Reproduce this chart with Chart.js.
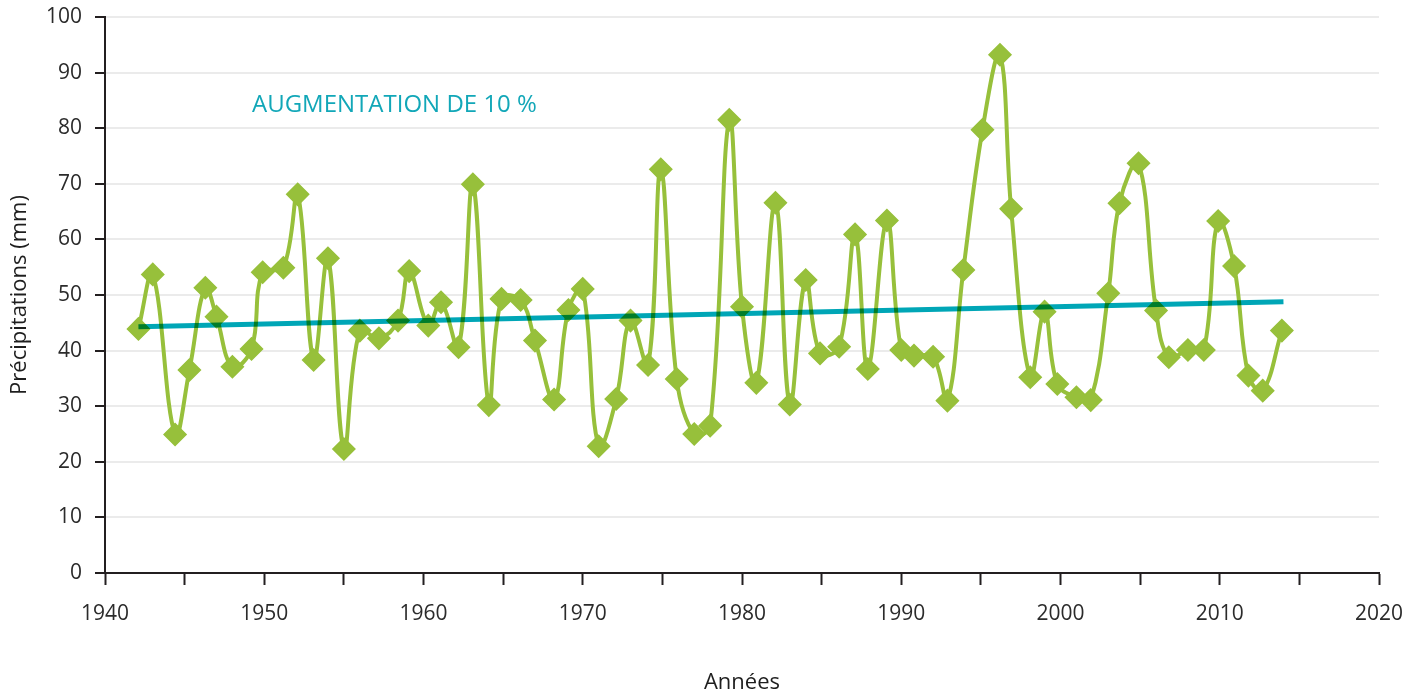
<!DOCTYPE html>
<html>
<head>
<meta charset="utf-8">
<script src="https://cdn.jsdelivr.net/npm/chart.js@4"></script>
<style>
  body { margin: 0; background: #fff; }
</style>
</head>
<body>
<canvas id="myChart" width="1422" height="696"></canvas>
<script>
// years (read off the picture, not quite regular)
const years = [1942.1, 1943.0, 1944.4, 1945.3, 1946.3, 1947.0, 1948.0, 1949.2, 1949.9, 1951.2,
  1952.1, 1953.1, 1954.0, 1955.0, 1956.0, 1957.2, 1958.4, 1959.1, 1960.3, 1961.1,
  1962.2, 1963.1, 1964.1, 1964.9, 1966.1, 1967.0, 1968.2, 1969.1, 1970.0, 1971.0,
  1972.1, 1973.0, 1974.1, 1974.9, 1975.9, 1977.0, 1978.0, 1979.2, 1980.0, 1980.9,
  1982.1, 1983.0, 1984.0, 1984.9, 1986.1, 1987.1, 1987.9, 1989.1, 1990.0, 1990.8,
  1992.0, 1992.9, 1993.9, 1995.1, 1996.2, 1996.9, 1998.1, 1999.0, 1999.8, 2001.0,
  2001.9, 2003.0, 2003.7, 2004.9, 2006.0, 2006.8, 2008.0, 2009.0, 2009.9, 2010.9,
  2011.8, 2012.7, 2013.9]
const precipitations = [43.9, 53.7, 24.9, 36.5, 51.3, 46.1, 37.1, 40.3, 54.1, 54.9,
  68.1, 38.3, 56.6, 22.3, 43.6, 42.2, 45.4, 54.3, 44.5, 48.7,
  40.6, 69.9, 30.2, 49.3, 49.1, 41.8, 31.2, 47.3, 51.1, 22.8,
  31.3, 45.4, 37.4, 72.6, 34.9, 25.0, 26.5, 81.5, 47.9, 34.2,
  66.6, 30.3, 52.7, 39.5, 40.7, 60.9, 36.7, 63.4, 40.1, 39.1,
  38.9, 31.0, 54.5, 79.7, 93.2, 65.5, 35.2, 47.0, 34.0, 31.6,
  31.1, 50.3, 66.5, 73.7, 47.2, 38.8, 40.1, 40.1, 63.3, 55.2,
  35.5, 32.8, 43.6]

// linear trend (+10 %)
const trendYears = [1942.1, 2014.0]
const trendValues = [44.3, 48.8]

const annotation = 'AUGMENTATION DE 10 %'
const xTitle = 'Années'
const yTitle = 'Précipitations (mm)'

const green = '#97c03b'
const teal = '#00a6b6'
const axisColor = '#231f20'
const font = "'Open Sans', sans-serif"

const annotationPlugin = {
  id: 'annotationText',
  beforeDatasetDraw(chart, args) {
    if (args.index === 0) {
      chart.ctx.save()
      chart.ctx.globalCompositeOperation = 'multiply'
    }
  },
  afterDatasetDraw(chart, args) {
    if (args.index === 0) chart.ctx.restore()
  },
  afterDraw(chart) {
    const {ctx, chartArea} = chart
    ctx.save()
    ctx.font = '24px ' + font
    ctx.fillStyle = '#12a7b8'
    ctx.textBaseline = 'alphabetic'
    ctx.fillText(annotation, chartArea.left + 147, 112)
    ctx.restore()
  }
}

const ctx = document.getElementById('myChart')

new Chart(ctx, {
  type: 'line',
  data: {
    datasets: [{
      label: 'tendance',
      data: trendYears.map((y, i) => ({x: y, y: trendValues[i]})),
      borderColor: teal,
      borderWidth: 5,
      pointRadius: 0,
      tension: 0
    }, {
      label: 'précipitations',
      data: years.map((y, i) => ({x: y, y: precipitations[i]})),
      borderColor: green,
      borderWidth: 4,
      backgroundColor: green,
      pointStyle: 'rectRot',
      pointRadius: 11,
      pointBorderWidth: 1.5,
      pointBorderColor: green,
      pointBackgroundColor: green,
      tension: 0.4
    }]
  },
  options: {
    responsive: false,
    animation: false,
    layout: { padding: { top: 17, right: 43, bottom: 0, left: 0 } },
    plugins: {
      legend: { display: false },
      tooltip: { enabled: false }
    },
    scales: {
      x: {
        type: 'linear',
        min: 1940,
        max: 2020,
        afterFit: s => { s.height = 123; s.paddingLeft = 0; s.paddingRight = 0 },
        border: { color: axisColor, width: 2 },
        grid: { drawOnChartArea: false, tickLength: 12, tickColor: axisColor, tickWidth: 2 },
        ticks: {
          stepSize: 5,
          autoSkip: false,
          maxRotation: 0,
          padding: 16,
          color: '#2b2b2b',
          font: { family: font, size: 21 },
          callback: v => (v % 10 === 0 ? String(v) : '')
        },
        title: {
          display: true,
          text: xTitle,
          color: '#1e1e1e',
          font: { family: font, size: 22 },
          padding: { top: 0, bottom: 0 }
        }
      },
      y: {
        min: 0,
        max: 100,
        afterFit: s => { s.width = 105; s.paddingTop = 0; s.paddingBottom = 0 },
        border: { color: axisColor, width: 2 },
        grid: { color: '#ebebeb', lineWidth: 2, tickLength: 10, tickColor: axisColor, tickWidth: 2 },
        ticks: {
          stepSize: 10,
          padding: 13,
          color: '#2b2b2b',
          font: { family: font, size: 21 }
        },
        title: {
          display: true,
          text: yTitle,
          color: '#1e1e1e',
          font: { family: font, size: 22 },
          padding: { top: 7, bottom: 0 }
        }
      }
    }
  },
  plugins: [annotationPlugin]
})
</script>
</body>
</html>
